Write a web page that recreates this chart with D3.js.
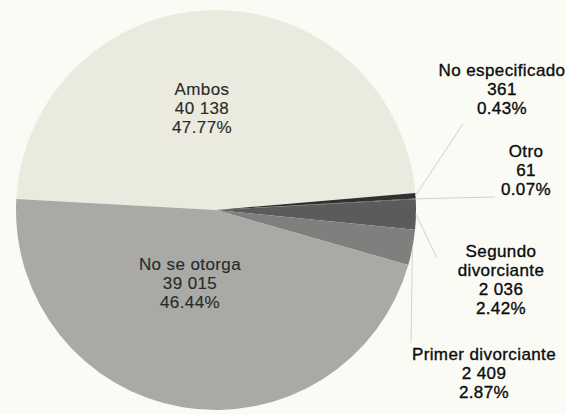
<!DOCTYPE html>
<html>
<head>
<meta charset="utf-8">
<script src="https://cdn.jsdelivr.net/npm/d3@7"></script>
<style>
  html, body { margin: 0; padding: 0; background: #fbfbf6; }
  svg { display: block; }
  text { font-family: "Liberation Sans", Arial, sans-serif; font-size: 17px; letter-spacing: 0.4px; }
</style>
</head>
<body>
<div id="chart"></div>
<script>
// categories in clockwise drawing order, starting with Ambos
const categories = ["Ambos", "No especificado", "Otro", "Segundo\ndivorciante", "Primer divorciante", "No se otorga"];
const values = [40138, 361, 61, 2036, 2409, 39015];
const colors = ["#ebeadf", "#2f3030", "#474848", "#5a5b5a", "#7f807e", "#a9aaa6"];

const width = 566, height = 414;
const cx = 216, cy = 210, radius = 200;

// label layout: centre x, first baseline, leader end (null = inside label)
const labelPos = {
  "Ambos":               { x: 202, y: 95,  end: null },
  "No se otorga":        { x: 190, y: 270, end: null },
  "No especificado":     { x: 502, y: 76,  end: [463, 124] },
  "Otro":                { x: 526, y: 157, end: [495, 197] },
  "Segundo\ndivorciante":{ x: 501, y: 257, end: [437, 258] },
  "Primer divorciante":  { x: 484, y: 360, end: [411, 343] }
};
const lineH = 19;

const total = d3.sum(values);
const locale = d3.formatLocale({ decimal: ".", thousands: " ", grouping: [3], currency: ["", ""] });
const fmtNum = locale.format(",d");
const fmtPct = d3.format(".2f");

const svg = d3.select("#chart").append("svg")
  .attr("width", width)
  .attr("height", height);

const data = categories.map((c, i) => ({ cat: c, value: values[i], color: colors[i] }));

const startA = (-90 + 3.15) * Math.PI / 180;
const pie = d3.pie()
  .sort(null)
  .value(d => d.value)
  .startAngle(startA)
  .endAngle(startA + 2 * Math.PI);

const arc = d3.arc().innerRadius(0).outerRadius(radius);
const arcs = pie(data);

const g = svg.append("g").attr("transform", "translate(" + cx + "," + cy + ")");

g.selectAll("path.slice")
  .data(arcs)
  .enter()
  .append("path")
  .attr("class", "slice")
  .attr("d", arc)
  .attr("fill", d => d.data.color);

// leader lines
arcs.forEach(d => {
  const p = labelPos[d.data.cat];
  if (!p.end) return;
  const mid = (d.startAngle + d.endAngle) / 2;
  const x0 = cx + Math.sin(mid) * radius;
  const y0 = cy - Math.cos(mid) * radius;
  svg.append("line")
    .attr("x1", x0).attr("y1", y0)
    .attr("x2", p.end[0]).attr("y2", p.end[1])
    .attr("stroke", "#d2d2c9")
    .attr("stroke-width", 1);
});

// labels
arcs.forEach(d => {
  const p = labelPos[d.data.cat];
  const lines = d.data.cat.split("\n")
    .concat([fmtNum(d.data.value), fmtPct(d.data.value / total * 100) + "%"]);
  const col = p.end ? "#0c0c0c" : "#2a2a2a";
  const t = svg.append("text")
    .attr("text-anchor", "middle")
    .attr("fill", col)
    .attr("stroke", col)
    .attr("stroke-width", p.end ? 0.35 : 0.15);
  lines.forEach((s, i) => {
    t.append("tspan")
      .attr("x", p.x)
      .attr("y", p.y + i * lineH)
      .text(s);
  });
});
</script>
</body>
</html>
